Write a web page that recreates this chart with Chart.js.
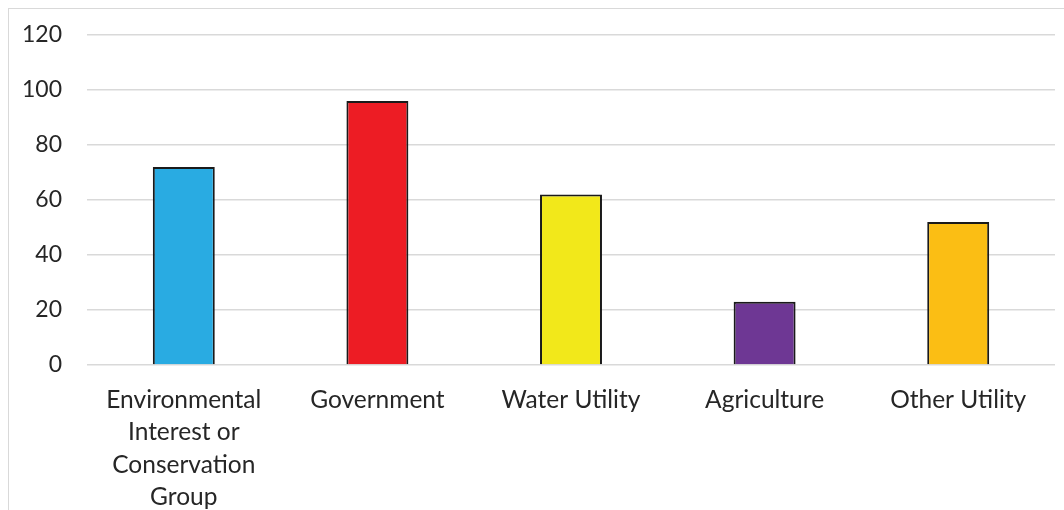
<!DOCTYPE html>
<html>
<head>
<meta charset="utf-8">
<title>Stakeholder groups</title>
<script src="https://cdn.jsdelivr.net/npm/chart.js@4/dist/chart.umd.min.js"></script>
<style>
  html, body { margin: 0; padding: 0; background: #fff; overflow: hidden; }
  .frame {
    position: absolute; left: 8px; top: 8px; width: 2000px; height: 2000px;
    border: 1px solid #d9d9d9; box-sizing: border-box;
  }
  .wrap { position: absolute; left: 0; top: 0; width: 1064px; height: 510px; }
</style>
</head>
<body>
<div class="frame"></div>
<div class="wrap"><canvas id="chart" width="1064" height="510"></canvas></div>
<script>
const categories = [
  ['Environmental', 'Interest or', 'Conservation', 'Group'],
  'Government',
  'Water Utility',
  'Agriculture',
  'Other Utility',
];
const counts = [72, 96, 62, 23, 52];
const barColours = ['#29abe2', '#ed1c24', '#f2e81a', '#6e3794', '#fbbe14'];
const yTicks = [0, 20, 40, 60, 80, 100, 120];

const fontFamily = "Lato, 'Open Sans', sans-serif";
const textColour = '#262626';

new Chart(document.getElementById('chart'), {
  type: 'bar',
  data: {
    labels: categories,
    datasets: [{
      data: counts,
      backgroundColor: barColours,
      borderColor: '#1a1a1a',
      borderWidth: 2,
      borderSkipped: 'bottom',
      categoryPercentage: 1,
      barPercentage: 0.32,
    }],
  },
  options: {
    responsive: false,
    animation: false,
    layout: { padding: { top: 35, right: 9, bottom: 0, left: 0 } },
    plugins: { legend: { display: false }, tooltip: { enabled: false } },
    scales: {
      x: {
        grid: { display: false },
        border: { display: false },
        ticks: {
          color: textColour,
          font: { family: fontFamily, size: 24.5, lineHeight: 1.32 },
          padding: 11,
          maxRotation: 0,
          autoSkip: false,
        },
        afterFit(scale) { scale.height = 145; },
      },
      y: {
        min: 0,
        max: 120,
        afterBuildTicks(scale) { scale.ticks = yTicks.map((value) => ({ value })); },
        grid: { color: '#d9d9d9', lineWidth: 1.5, drawTicks: false },
        border: { display: false },
        ticks: { color: textColour, font: { family: fontFamily, size: 23 }, padding: 25 },
        afterFit(scale) {
          // fixed axis width; the plot top comes from layout padding alone
          scale.width = 87;
          scale.paddingTop = 0;
          scale.paddingBottom = 0;
        },
      },
    },
  },
});
</script>
</body>
</html>
